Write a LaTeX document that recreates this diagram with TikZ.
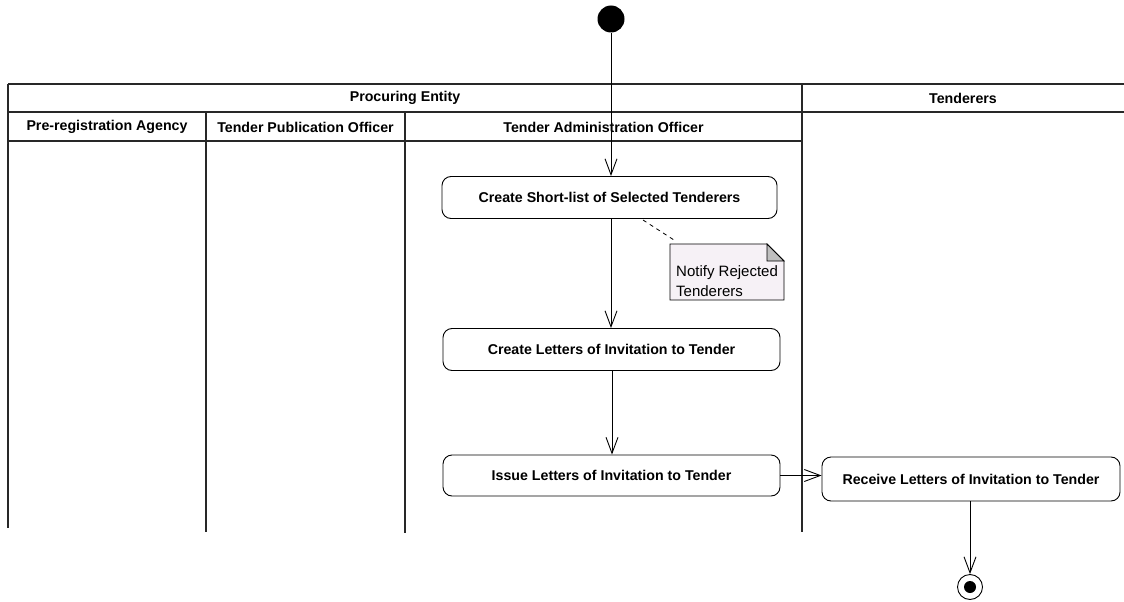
\documentclass[tikz,border=0pt]{standalone}
\usepackage{fontspec}
\setmainfont{Liberation Sans}
\usetikzlibrary{arrows.meta,shapes.misc}
\definecolor{notefill}{RGB}{246,241,246}
\definecolor{lanegray}{RGB}{40,40,40}
\begin{document}
\begin{tikzpicture}[x=1pt,y=-1pt,
  lane/.style={draw=lanegray,line width=1.6pt},
  hdr/.style={font=\fontsize{14.2}{16}\selectfont\bfseries,inner sep=0pt},
  act/.style={draw,line width=0.9pt,rounded corners=9pt,minimum height=42pt,
              font=\fontsize{14.2}{16}\selectfont\bfseries,align=center},
  flow/.style={line width=0.9pt,-{Straight Barb[length=16pt,width=12pt,line width=0.9pt]}},
  notetxt/.style={font=\fontsize{15}{20}\selectfont,align=left,inner sep=0pt,anchor=north west}]
\useasboundingbox (0,0) rectangle (1124,602);

% swimlane frame
\draw[lane] (8,84) -- (1124,84);
\draw[lane] (8,112) -- (1124,112);
\draw[lane] (8,141) -- (802,141);
\draw[lane] (8,84) -- (8,528);
\draw[lane] (206,112) -- (206,532);
\draw[lane] (405,112) -- (405,533);
\draw[lane] (802,84) -- (802,532);

% lane titles
\node[hdr] (pe) at (405,98) {Procuring Entity};
\node[hdr] (td) at (963,98) {Tenderers};
\node[hdr] (pra) at (107,127) {Pre-registration Agency};
\node[hdr] (tpo) at (305.5,127) {Tender Publication Officer};
\node[hdr] (tao) at (603.5,127) {Tender Administration Officer};

% start and end
\node[circle,fill=black,minimum size=27pt,inner sep=0pt] (start) at (611,19) {};
\node[circle,draw,line width=0.9pt,fill=white,minimum size=25pt,inner sep=0pt] (final) at (970,587) {};
\node[circle,fill=black,minimum size=12pt,inner sep=0pt] (finaldot) at (970,587) {};

% activities
\node[act,minimum width=335pt] (a1) at (609.5,197.5) {Create Short-list of Selected Tenderers};
\node[act,minimum width=337pt] (a2) at (611.5,349.5) {Create Letters of Invitation to Tender};
\node[act,minimum width=337pt,minimum height=41pt] (a3) at (611.5,475.5) {Issue Letters of Invitation to Tender};
\node[act,minimum width=298pt,minimum height=44pt] (a4) at (971,479) {Receive Letters of Invitation to Tender};

% note with folded corner
\draw[line width=0.8pt,fill=notefill] (670,244) -- (767,244) -- (784,261) -- (784,300) -- (670,300) -- cycle;
\draw[line width=0.8pt,fill=black!25] (767,244) -- (767,261) -- (784,261) -- cycle;
\node[notetxt] (note) at (676,265) {Notify Rejected\\Tenderers};
\coordinate (noteanchor) at (674,240);
\draw[line width=0.8pt,dashed,dash pattern=on 4pt off 4pt] (643,220) -- (noteanchor);

% flows
\draw[flow] (start.south) -- (a1.north -| start.south);
\draw[flow] (a1.south -| 611,0) -- (a2.north -| 611,0);
\draw[flow] (a2.south -| 612,0) -- (a3.north -| 612,0);
\draw[flow] (a3.east) -- (a4.west |- a3.east);
\draw[flow] (a4.south -| final.north) -- (final.north);
\end{tikzpicture}
\end{document}
